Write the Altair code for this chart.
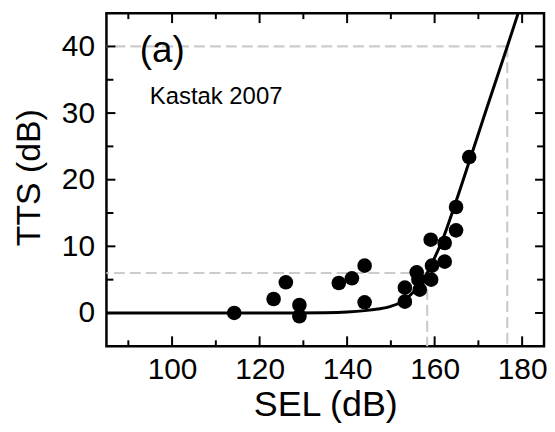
import altair as alt
import pandas as pd

# ---- data ----
pt_sel = [114.2, 123.2, 126.0, 129.1, 129.1, 138.1, 141.1, 144.0, 144.0,
          153.2, 153.2, 155.9, 156.3, 156.6, 159.1, 159.4, 159.2,
          162.3, 162.3, 164.9, 164.9, 167.9]
pt_tts = [0.0, 2.1, 4.6, 1.2, -0.5, 4.5, 5.2, 7.1, 1.6,
          3.8, 1.7, 6.1, 5.0, 3.5, 11.0, 7.1, 5.0,
          10.5, 7.7, 15.9, 12.4, 23.4]

curve_sel = [85, 125, 135, 140, 144, 147, 150, 152, 154, 156, 158.3, 160,
             162, 164, 166, 168, 172, 176.6, 179.1]
curve_tts = [0, 0, 0.05, 0.15, 0.35, 0.6, 1.0, 1.5, 2.4, 3.8, 6.0, 8.3,
             11.3, 15.0, 18.9, 22.9, 30.9, 40.0, 45.0]

ref_sel = [158.3, 176.6]
ref_tts = [6.0, 40.0]

x_major = [100, 120, 140, 160, 180]
x_minor = [90, 110, 130, 150, 170]
y_major = [0, 10, 20, 30, 40]
y_minor = [5, 15, 25, 35]

ann_text = ["(a)", "Kastak 2007"]
ann_sel = [92.6, 94.9]
ann_tts = [37.7, 31.4]
ann_size = [37, 24]

X_DOM = [85, 185]
Y_DOM = [-5, 45]
W, H = 440, 335
FONT = "Liberation Sans"

xs = alt.Scale(domain=X_DOM, nice=False, zero=False)
ys = alt.Scale(domain=Y_DOM, nice=False, zero=False)

pts = pd.DataFrame({"sel": pt_sel, "tts": pt_tts})
crv = pd.DataFrame({"sel": curve_sel, "tts": curve_tts})
ref = pd.DataFrame({"sel": ref_sel, "tts": ref_tts})

x_axis = alt.Axis(values=x_major, ticks=False, domain=False, grid=False,
                  labelFontSize=30, labelFont=FONT, labelColor="black",
                  labelPadding=8, title="SEL (dB)", titleFontSize=36,
                  titleFont=FONT, titleFontWeight="normal", titleColor="black",
                  titleX=W / 2, titleY=70, titleBaseline="alphabetic",
                  titleAlign="center", labelFlush=False)
y_axis = alt.Axis(values=y_major, ticks=False, domain=False, grid=False,
                  labelFontSize=30, labelFont=FONT, labelColor="black",
                  labelPadding=12, title="TTS (dB)", titleFontSize=34,
                  titleFont=FONT, titleFontWeight="normal", titleColor="black",
                  titleX=-67, titleY=165, titleBaseline="alphabetic",
                  titleAlign="center", titleAngle=270, labelFlush=False)

dash_style = dict(color="#cccccc", strokeWidth=2.2, strokeDash=[11, 5])
hline = alt.Chart(ref).mark_rule(**dash_style).encode(
    x=alt.X("sel:Q", scale=xs, axis=x_axis), x2=alt.datum(X_DOM[0]),
    y=alt.Y("tts:Q", scale=ys, axis=y_axis))
vline = alt.Chart(ref).mark_rule(**dash_style).encode(
    x=alt.X("sel:Q", scale=xs), y=alt.Y("tts:Q", scale=ys),
    y2=alt.datum(Y_DOM[0]))

line = alt.Chart(crv).mark_line(color="black", strokeWidth=3, clip=True,
                                interpolate="monotone").encode(
    x=alt.X("sel:Q", scale=xs), y=alt.Y("tts:Q", scale=ys))

points = alt.Chart(pts).mark_circle(color="black", opacity=1, size=215).encode(
    x=alt.X("sel:Q", scale=xs), y=alt.Y("tts:Q", scale=ys))

layers = [hline, vline, line, points]

px_x = W / (X_DOM[1] - X_DOM[0])
px_y = H / (Y_DOM[1] - Y_DOM[0])

def xticks(vals, length):
    d = pd.DataFrame({"v": vals})
    L = length / px_y
    b = alt.Chart(d).mark_rule(color="black", strokeWidth=2).encode(
        x=alt.X("v:Q", scale=xs), y=alt.datum(Y_DOM[0]),
        y2=alt.datum(Y_DOM[0] + L))
    t = alt.Chart(d).mark_rule(color="black", strokeWidth=2).encode(
        x=alt.X("v:Q", scale=xs), y=alt.datum(Y_DOM[1]),
        y2=alt.datum(Y_DOM[1] - L))
    return [b, t]

def yticks(vals, length):
    d = pd.DataFrame({"v": vals})
    L = length / px_x
    l = alt.Chart(d).mark_rule(color="black", strokeWidth=2).encode(
        y=alt.Y("v:Q", scale=ys), x=alt.datum(X_DOM[0]),
        x2=alt.datum(X_DOM[0] + L))
    r = alt.Chart(d).mark_rule(color="black", strokeWidth=2).encode(
        y=alt.Y("v:Q", scale=ys), x=alt.datum(X_DOM[1]),
        x2=alt.datum(X_DOM[1] - L))
    return [l, r]

layers += xticks(x_major, 10) + xticks(x_minor, 6)
layers += yticks(y_major, 9) + yticks(y_minor, 7)

for txt, sx, sy, fs in zip(ann_text, ann_sel, ann_tts, ann_size):
    d = pd.DataFrame({"sel": [sx], "tts": [sy], "t": [txt]})
    layers.append(alt.Chart(d).mark_text(
        align="left", baseline="alphabetic", fontSize=fs, font=FONT,
        color="black").encode(
        x=alt.X("sel:Q", scale=xs), y=alt.Y("tts:Q", scale=ys), text="t:N"))

chart = alt.layer(*layers).properties(
    width=W, height=H, background="white",
    autosize=alt.AutoSizeParams(type="none"),
    padding={"left": 99, "top": 4, "right": 3, "bottom": 80},
).configure_view(stroke="black", strokeWidth=2.5)

chart.save("out.html", embed_options={"renderer": "svg", "actions": False})
